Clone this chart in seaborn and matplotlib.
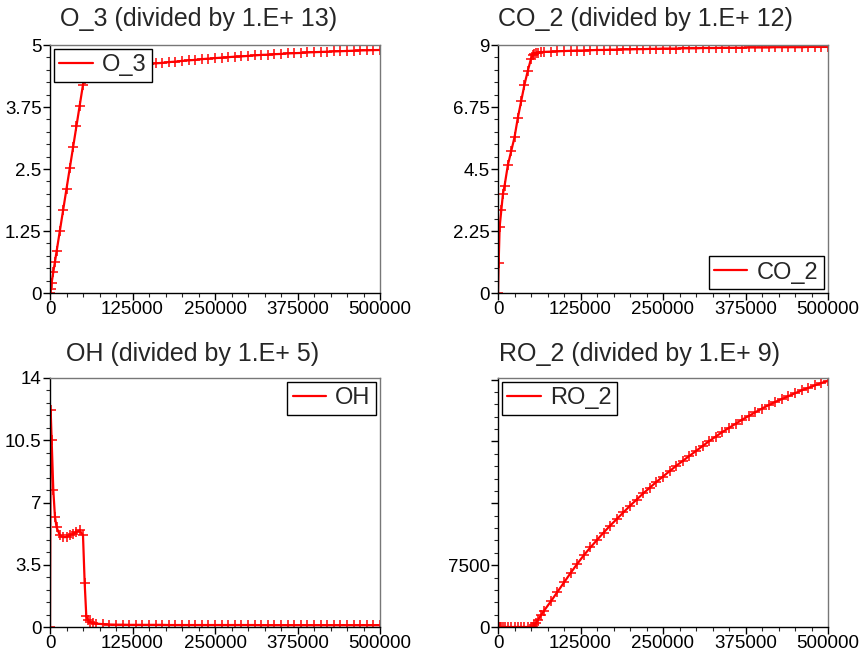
import matplotlib
matplotlib.use("Agg")
import matplotlib.pyplot as plt
import seaborn as sns
import pandas as pd
from matplotlib.lines import Line2D
from matplotlib.ticker import FixedLocator, FixedFormatter, AutoMinorLocator

# ---------------- data ----------------
t = [0, 1000, 2500, 5000, 7500, 10000, 15000, 20000, 25000, 30000, 35000, 40000,
     45000, 50000, 52500, 55000, 57500, 60000, 65000, 70000, 80000, 90000,
     100000, 110000, 120000, 130000, 140000, 150000, 160000, 170000, 180000, 190000,
     200000, 210000, 220000, 230000, 240000, 250000, 260000, 270000, 280000, 290000,
     300000, 310000, 320000, 330000, 340000, 350000, 360000, 370000, 380000, 390000,
     400000, 410000, 420000, 430000, 440000, 450000, 460000, 470000, 480000, 490000,
     500000]

o3 = [0, 0.08, 0.21, 0.42, 0.63, 0.84, 1.26, 1.68, 2.10, 2.52, 2.94, 3.36,
      3.78, 4.20, 4.32, 4.40, 4.44, 4.46, 4.48, 4.50, 4.52, 4.54,
      4.55, 4.565, 4.58, 4.59, 4.60, 4.615, 4.63, 4.64, 4.655, 4.665,
      4.68, 4.69, 4.70, 4.715, 4.725, 4.735, 4.745, 4.755, 4.765, 4.77,
      4.78, 4.79, 4.80, 4.805, 4.815, 4.82, 4.83, 4.835, 4.84, 4.85,
      4.855, 4.86, 4.865, 4.87, 4.875, 4.88, 4.885, 4.89, 4.893, 4.897,
      4.90]

co2 = [0, 1.1, 2.4, 3.0, 3.6, 3.9, 4.65, 5.15, 5.65, 6.35, 6.95, 7.55,
       8.05, 8.5, 8.62, 8.68, 8.70, 8.72, 8.74, 8.75, 8.76, 8.77,
       8.78, 8.79, 8.80, 8.80, 8.81, 8.82, 8.82, 8.83, 8.83, 8.84,
       8.84, 8.85, 8.85, 8.86, 8.86, 8.87, 8.87, 8.87, 8.88, 8.88,
       8.88, 8.89, 8.89, 8.89, 8.90, 8.90, 8.90, 8.90, 8.91, 8.91,
       8.91, 8.91, 8.92, 8.92, 8.92, 8.92, 8.92, 8.93, 8.93, 8.93,
       8.93]

oh = [0, 12.2, 10.5, 7.7, 6.2, 5.6, 5.15, 5.05, 5.06, 5.15, 5.25, 5.34,
      5.43, 5.15, 2.5, 0.6, 0.4, 0.3, 0.22, 0.19, 0.16, 0.14,
      0.13, 0.13, 0.12, 0.12, 0.12, 0.12, 0.12, 0.12, 0.11, 0.11,
      0.11, 0.11, 0.11, 0.11, 0.11, 0.11, 0.11, 0.11, 0.11, 0.11,
      0.11, 0.11, 0.10, 0.10, 0.10, 0.10, 0.10, 0.10, 0.10, 0.10,
      0.10, 0.10, 0.10, 0.10, 0.10, 0.10, 0.10, 0.10, 0.10, 0.10,
      0.10]

ro2 = [0, 0, 0, 0, 0, 0, 0, 0, 0, 0, 0, 0,
       0, 0, 0, 200, 500, 800, 1400, 2000, 3100, 4250,
       5400, 6550, 7650, 8700, 9650, 10550, 11450, 12300, 13100, 13900,
       14700, 15450, 16200, 16900, 17600, 18250, 18900, 19550, 20150, 20750,
       21350, 21950, 22550, 23100, 23650, 24150, 24650, 25150, 25600, 26050,
       26500, 26900, 27300, 27650, 28000, 28350, 28700, 29000, 29300, 29600,
       29850]

x_ticks = [0, 125000, 250000, 375000, 500000]
x_labels = ["0", "125000", "250000", "375000", "500000"]

panels = [
    ("O_3", "O_3 (divided by 1.E+ 13)", o3, [0, 1.25, 2.5, 3.75, 5], ["0", "1.25", "2.5", "3.75", "5"], 5, "upper left"),
    ("CO_2", "CO_2 (divided by 1.E+ 12)", co2, [0, 2.25, 4.5, 6.75, 9], ["0", "2.25", "4.5", "6.75", "9"], 9, "lower right"),
    ("OH", "OH (divided by 1.E+ 5)", oh, [0, 3.5, 7, 10.5, 14], ["0", "3.5", "7", "10.5", "14"], 14, "upper right"),
    ("RO_2", "RO_2 (divided by 1.E+ 9)", ro2, [0, 7500, 15000, 22500, 30000], ["0", "7500", "", "", ""], 30200, "upper left"),
]

# ---------------- plot ----------------
sns.set_theme(style="ticks")
plt.rcParams["font.family"] = ["Liberation Sans", "DejaVu Sans"]

fig = plt.figure(figsize=(8.63, 6.56), dpi=100)
W, H = 863.0, 656.0
boxes = [
    (50, 45, 330, 248),
    (498, 45, 330, 248),
    (50, 378, 330, 249),
    (498, 378, 330, 249),
]
title_x = [0.449, 0.446, 0.432, 0.43]

for i, (name, title, vals, yt, yl, ymax, loc) in enumerate(panels):
    x0, y0, w, h = boxes[i]
    ax = fig.add_axes([x0 / W, 1 - (y0 + h) / H, w / W, h / H])
    df = pd.DataFrame({"t": t, "v": vals})
    sns.lineplot(data=df, x="t", y="v", ax=ax, color="red", linewidth=1.6,
                 marker="+", markersize=7, markeredgewidth=1.1,
                 markeredgecolor="red", legend=False)
    ax.set_xlim(0, 500000)
    ax.set_ylim(0, ymax)
    ax.set_xlabel("")
    ax.set_ylabel("")
    ax.xaxis.set_major_locator(FixedLocator(x_ticks))
    ax.xaxis.set_major_formatter(FixedFormatter(x_labels))
    ax.yaxis.set_major_locator(FixedLocator(yt))
    ax.yaxis.set_major_formatter(FixedFormatter(yl))
    ax.xaxis.set_minor_locator(AutoMinorLocator(5))
    ax.yaxis.set_minor_locator(AutoMinorLocator(5))
    ax.tick_params(axis="both", which="major", length=5, width=1, labelsize=13.5,
                   pad=1, colors="black")
    ax.tick_params(axis="both", which="minor", length=3, width=0.8)
    for s in ["left", "bottom"]:
        ax.spines[s].set_color("black")
        ax.spines[s].set_linewidth(1.0)
    for s in ["top", "right"]:
        ax.spines[s].set_visible(True)
        ax.spines[s].set_color("#777777")
        ax.spines[s].set_linewidth(1.0)
    ax.set_title(title, fontsize=18, x=title_x[i], pad=14 if i < 2 else 12)
    handle = Line2D([], [], color="red", linewidth=1.6)
    leg = ax.legend([handle], [name], loc=loc, fontsize=17, frameon=True,
                    fancybox=False, framealpha=1, edgecolor="black",
                    borderpad=0.25, handlelength=1.4, handletextpad=0.4,
                    borderaxespad=0.15)
    leg.get_frame().set_linewidth(1.0)

fig.savefig("out.png", dpi=100)
